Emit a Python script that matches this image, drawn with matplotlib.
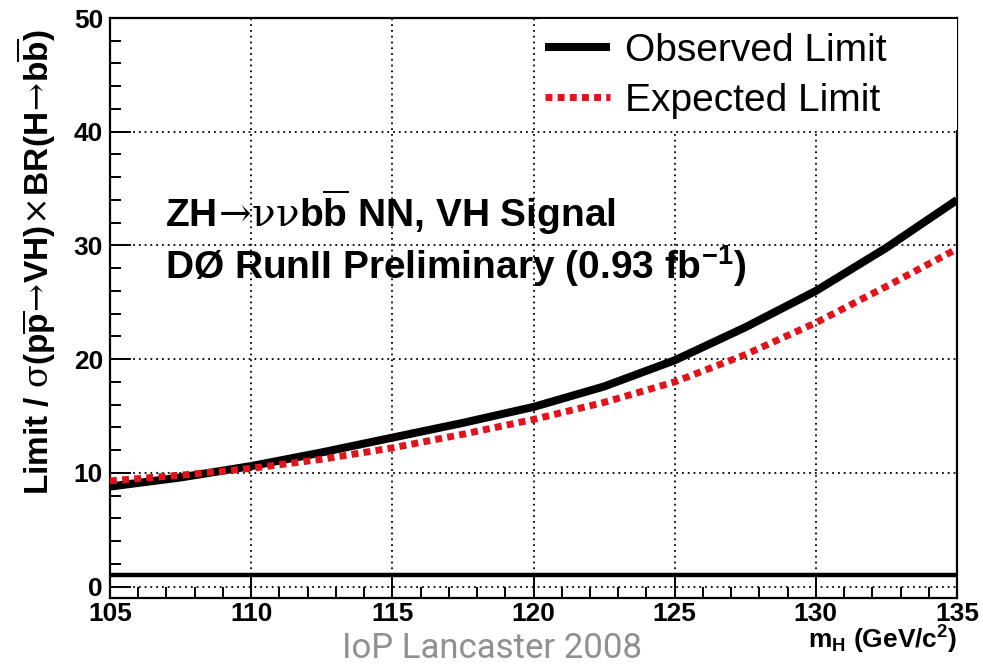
import matplotlib
matplotlib.use("Agg")
import matplotlib.pyplot as plt
from matplotlib.ticker import MultipleLocator
from matplotlib.patches import Rectangle

plt.rcParams['font.family'] = ['Liberation Sans', 'DejaVu Sans']
plt.rcParams['mathtext.fontset'] = 'custom'
plt.rcParams['mathtext.rm'] = 'DejaVu Serif'
plt.rcParams['mathtext.bf'] = 'Liberation Sans:bold'
plt.rcParams['mathtext.it'] = 'DejaVu Serif:italic'

# Data
mass = [105, 107.5, 110, 112.5, 115, 117.5, 120, 122.5, 125, 127.5, 130, 132.5, 135]
observed = [8.8, 9.6, 10.6, 11.8, 13.1, 14.4, 15.8, 17.6, 19.9, 22.8, 26.0, 29.8, 34.0]
expected = [9.3, 9.8, 10.4, 11.2, 12.2, 13.4, 14.7, 16.2, 18.0, 20.4, 23.2, 26.4, 29.7]
sm_line = 1.0
x_ticks = [105, 110, 115, 120, 125, 130, 135]
y_ticks = [0, 10, 20, 30, 40, 50]

W, H = 983, 667
def fx(px):
    return px / W
def fy(py):
    return 1 - py / H

fig = plt.figure(figsize=(9.83, 6.67), dpi=100)
ax = fig.add_axes([fx(110), fy(598), (957 - 110) / W, (598 - 18) / H])

ax.set_xlim(105, 135)
ax.set_ylim(-1, 50)

ax.plot(mass, observed, color='black', lw=5.8, solid_capstyle='butt', zorder=4, label='Observed Limit')
ax.plot(mass, expected, color='#e3131b', lw=5.0, linestyle=(0, (1.0, 0.75)), dash_capstyle='butt', zorder=5, label='Expected Limit')
ax.axhline(sm_line, color='black', lw=3.2, zorder=4)

ax.set_xticks(x_ticks)
ax.set_yticks(y_ticks)
ax.xaxis.set_minor_locator(MultipleLocator(1))
ax.yaxis.set_minor_locator(MultipleLocator(2))
ax.tick_params(which='both', direction='in', top=False, right=False, width=1.4, labelsize=19)
ax.tick_params(which='major', length=15)
ax.tick_params(which='minor', length=8)
for lab in ax.get_xticklabels() + ax.get_yticklabels():
    lab.set_fontweight('bold')
ax.tick_params(axis='x', pad=3)
ax.tick_params(axis='y', pad=5)

ax.grid(True, which='major', color='black', linestyle=(0, (1, 2.2)), lw=1.3)
for sp in ax.spines.values():
    sp.set_linewidth(1.6)

# white legend box covering the grid
box = Rectangle((fx(540), fy(130)), fx(957) - fx(540), fy(19) - fy(130),
                facecolor='white', edgecolor='none', zorder=3)
ax.add_patch(box)
box.set_transform(fig.transFigure)

leg = ax.legend(loc='upper left', bbox_to_anchor=(fx(545), fy(33)), bbox_transform=fig.transFigure,
                frameon=False, fontsize=28, handlelength=1.67, borderaxespad=0.0, borderpad=0.0,
                labelspacing=0.36, handletextpad=0.39)
leg.set_zorder(6)

ax.text(fx(165), fy(212), r'ZH$\mathrm{\!\rightarrow\!\nu\nu}$b$\mathbf{\overline{b}}$ NN, VH Signal',
        transform=fig.transFigure, fontsize=28, fontweight='bold', ha='left', va='center', zorder=7)
ax.text(fx(165), fy(266), r'DØ RunII Preliminary (0.93 fb$\mathbf{^{-1}}$)',
        transform=fig.transFigure, fontsize=28, fontweight='bold', ha='left', va='center', zorder=7)

fig.text(fx(36), fy(262),
         r'Limit / $\mathrm{\sigma}$(p$\mathbf{\overline{p}}\mathrm{\!\rightarrow\!}$VH)$\mathrm{\!\times\!}$BR(H$\mathrm{\!\rightarrow\!}$b$\mathbf{\overline{b}}$)',
         rotation=90, fontsize=24, fontweight='bold', ha='center', va='center')

fig.text(fx(957), fy(640), r'm$_{\mathbf{H}}$ (GeV/c$^{\mathbf{2}}$)', fontsize=19, fontweight='bold',
         ha='right', va='center')
fig.text(fx(492), fy(648), 'IoP Lancaster 2008', fontsize=25, color='#909090',
         ha='center', va='center', family=['Roboto', 'Liberation Sans'])

fig.savefig('out.png', dpi=100)
